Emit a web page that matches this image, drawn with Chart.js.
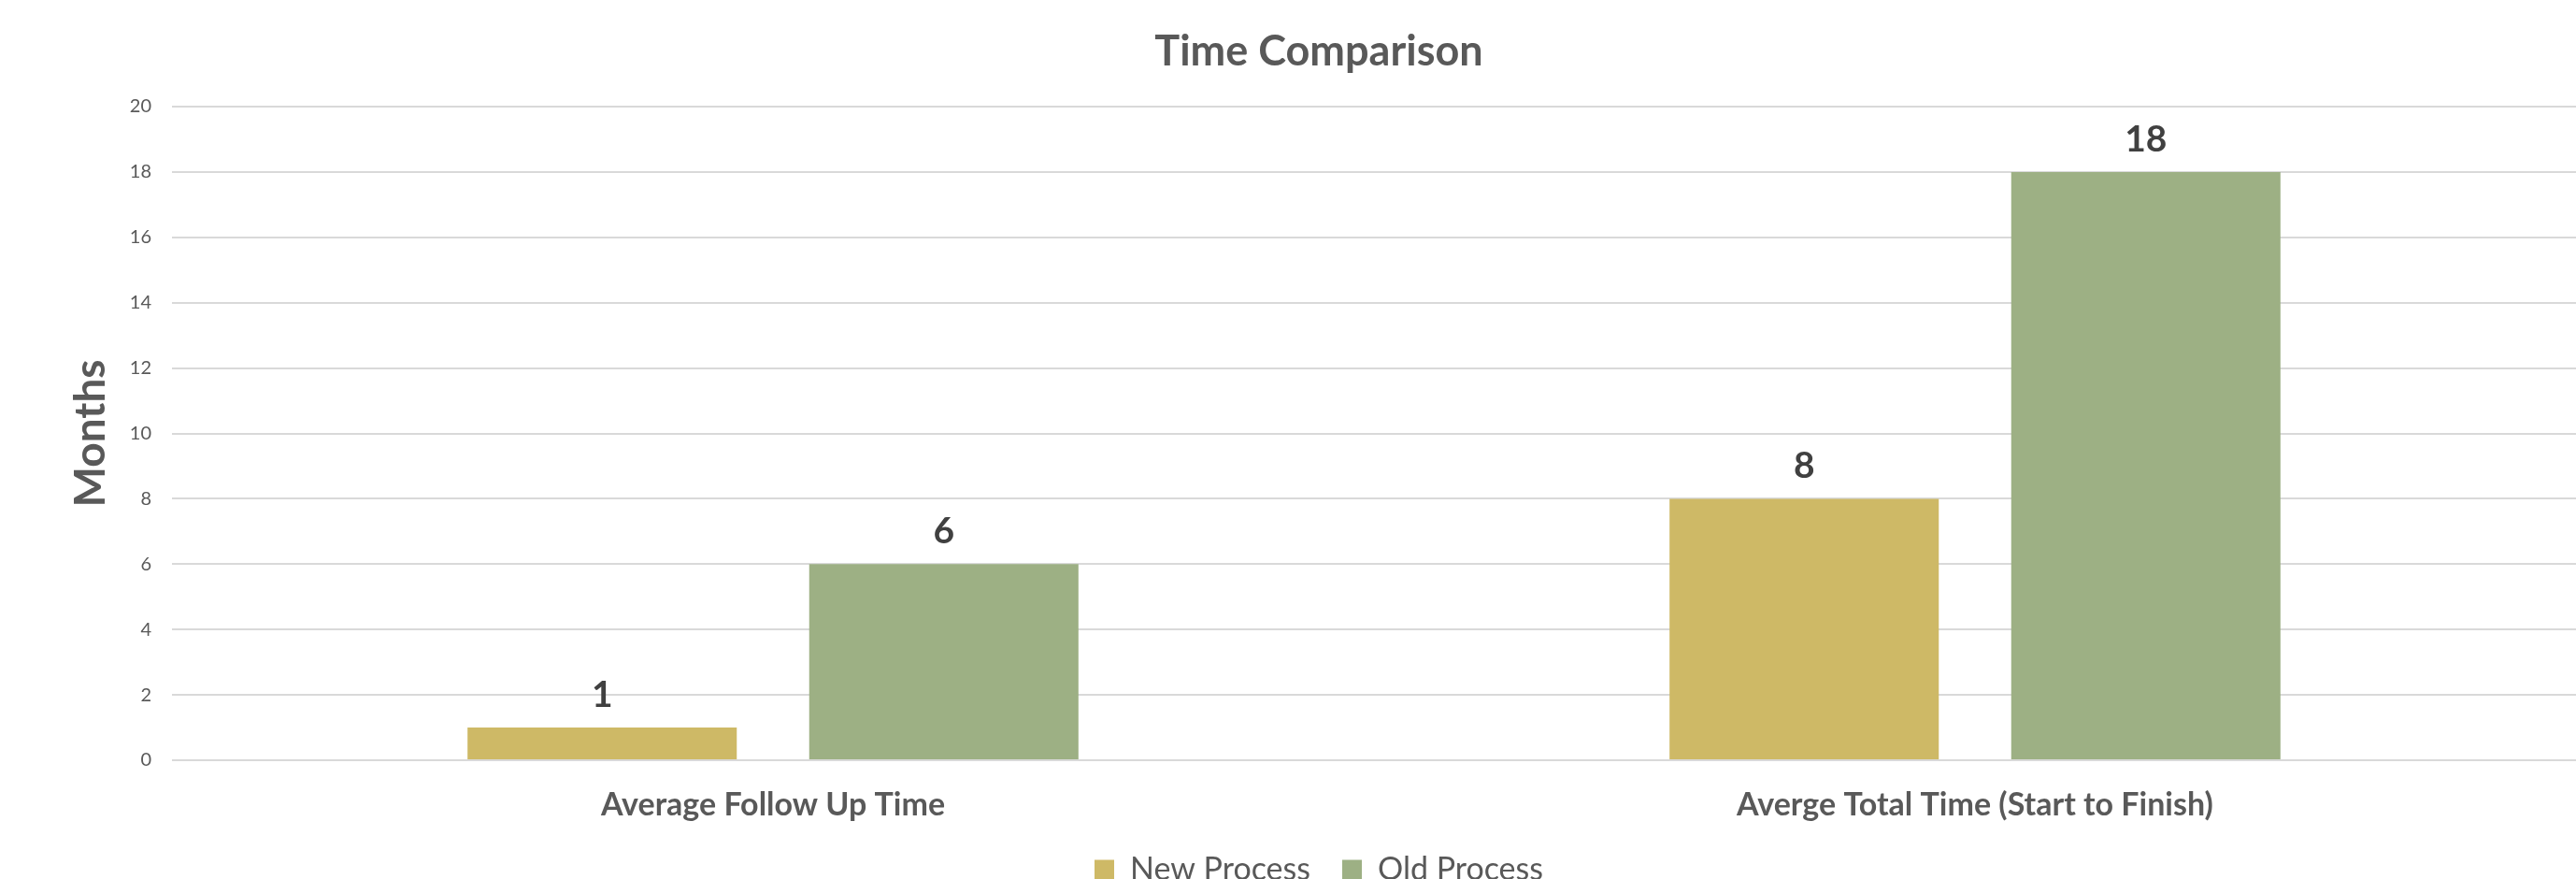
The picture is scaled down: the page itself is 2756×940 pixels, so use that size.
<!DOCTYPE html>
<html>
<head>
<meta charset="utf-8">
<script src="https://cdn.jsdelivr.net/npm/chart.js@4/dist/chart.umd.min.js"></script>
<style>
  html, body { margin: 0; padding: 0; background: #fff; overflow: hidden; }
  #wrap { width: 2756px; height: 957px; }
</style>
</head>
<body>
<div id="wrap"><canvas id="myChart"></canvas></div>
<script>
// chart values
var categories = ['Average Follow Up Time', 'Averge Total Time (Start to Finish)'];
var newProcess = [1, 8];
var oldProcess = [6, 18];
var seriesNames = ['New Process', 'Old Process'];

// value labels above each bar
var barLabels = {
    id: 'barLabels',
    afterDatasetsDraw: function(chart) {
        var ctx = chart.ctx;
        ctx.save();
        ctx.font = 'bold 39px Lato';
        ctx.fillStyle = '#404040';
        ctx.textAlign = 'center';
        ctx.textBaseline = 'alphabetic';
        chart.data.datasets.forEach(function(ds, i) {
            var meta = chart.getDatasetMeta(i);
            meta.data.forEach(function(bar, j) {
                ctx.fillText(ds.data[j], bar.x, bar.y - 22);
            });
        });
        ctx.restore();
    }
};

// title and legend sit a bit right of the page centre in the original
var shiftBlocks = {
    id: 'shiftBlocks',
    afterLayout: function(chart) {
        if (chart.titleBlock) {
            chart.titleBlock.left = 66;
        }
        if (chart.legend) {
            chart.legend.left = 66;
        }
    }
};

var ctx = document.getElementById('myChart').getContext('2d');
var myChart = new Chart(ctx, {
    type: 'bar',
    data: {
        labels: categories,
        datasets: [
            {
                label: seriesNames[0],
                data: newProcess,
                backgroundColor: '#CEB966',
                categoryPercentage: 0.5685,
                barPercentage: 0.788
            },
            {
                label: seriesNames[1],
                data: oldProcess,
                backgroundColor: '#9DB084',
                categoryPercentage: 0.5685,
                barPercentage: 0.788
            }
        ]
    },
    plugins: [barLabels, shiftBlocks],
    options: {
        responsive: true,
        maintainAspectRatio: false,
        animation: false,
        layout: { padding: 0 },
        plugins: {
            title: {
                display: true,
                text: 'Time Comparison',
                color: '#595959',
                font: { family: 'Lato', size: 45, weight: 'bold' },
                padding: { top: 28, bottom: 32 }
            },
            legend: {
                position: 'bottom',
                labels: {
                    color: '#595959',
                    font: { family: 'Lato', size: 34 },
                    boxWidth: 21,
                    boxHeight: 21,
                    padding: 34
                }
            },
            tooltip: { enabled: false }
        },
        scales: {
            x: {
                grid: { display: false, drawTicks: false },
                border: { display: false },
                ticks: {
                    color: '#595959',
                    font: { family: 'Lato', size: 34, weight: 'bold' },
                    padding: 28
                },
                afterFit: function(scale) { scale.height = 66; }
            },
            y: {
                min: 0,
                max: 20,
                grid: { color: '#d9d9d9', lineWidth: 2, drawTicks: false },
                border: { display: false },
                ticks: {
                    stepSize: 2,
                    color: '#595959',
                    font: { family: 'Lato', size: 20 },
                    padding: 22
                },
                title: {
                    display: true,
                    text: 'Months',
                    color: '#595959',
                    font: { family: 'Lato', size: 46, weight: 'bold' },
                    padding: { top: 70, bottom: 0 }
                },
                afterFit: function(scale) { scale.width = 184; }
            }
        }
    }
});
</script>
</body>
</html>
